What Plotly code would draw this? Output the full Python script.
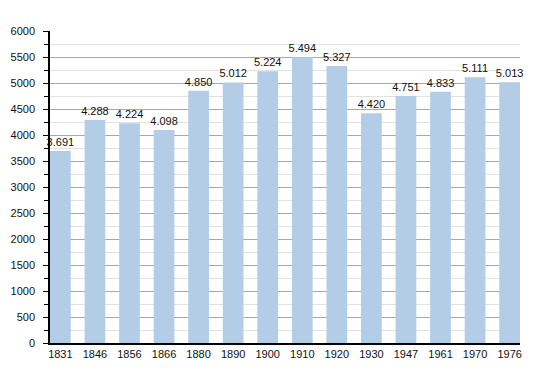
import plotly.graph_objects as go

years = ["1831", "1846", "1856", "1866", "1880", "1890", "1900", "1910",
         "1920", "1930", "1947", "1961", "1970", "1976"]
population = [3691, 4288, 4224, 4098, 4850, 5012, 5224, 5494,
              5327, 4420, 4751, 4833, 5111, 5013]
y_ticks = [0, 500, 1000, 1500, 2000, 2500, 3000, 3500, 4000, 4500,
           5000, 5500, 6000]

fig = go.Figure(go.Bar(
    x=years,
    y=population,
    marker=dict(color="#b3cde6", line=dict(width=0)),
    width=0.6,
    text=population,
    texttemplate="%{y:,}",
    textposition="outside",
    constraintext="none",
    textfont=dict(size=11, color="#111111"),
    cliponaxis=False,
))

fig.update_layout(
    width=542, height=365,
    margin=dict(l=42, r=29.5, t=22.5, b=30, pad=0),
    paper_bgcolor="white", plot_bgcolor="white",
    separators=",.",
    font=dict(family="Liberation Sans, Arial, sans-serif", size=11, color="#111111"),
    showlegend=False,
)
fig.update_xaxes(
    type="category",
    range=[-0.3, 13.3],
    automargin=False,
    showline=True, linecolor="black", linewidth=1.5,
    ticks="", showgrid=False,
    tickfont=dict(size=11),
)
fig.update_yaxes(
    range=[0, 6000],
    tickvals=y_ticks,
    automargin=False,
    showline=True, linecolor="black", linewidth=1.5,
    ticks="outside", ticklen=5, tickcolor="black", tickwidth=1,
    ticklabelstandoff=6,
    showgrid=True, gridcolor="#a8a8a8", gridwidth=1,
    minor=dict(dtick=250, showgrid=True, gridcolor="#e2e2e2",
               ticks="outside", ticklen=4, tickcolor="black"),
    zeroline=False,
    tickfont=dict(size=11),
)

fig.write_html("out.html")
